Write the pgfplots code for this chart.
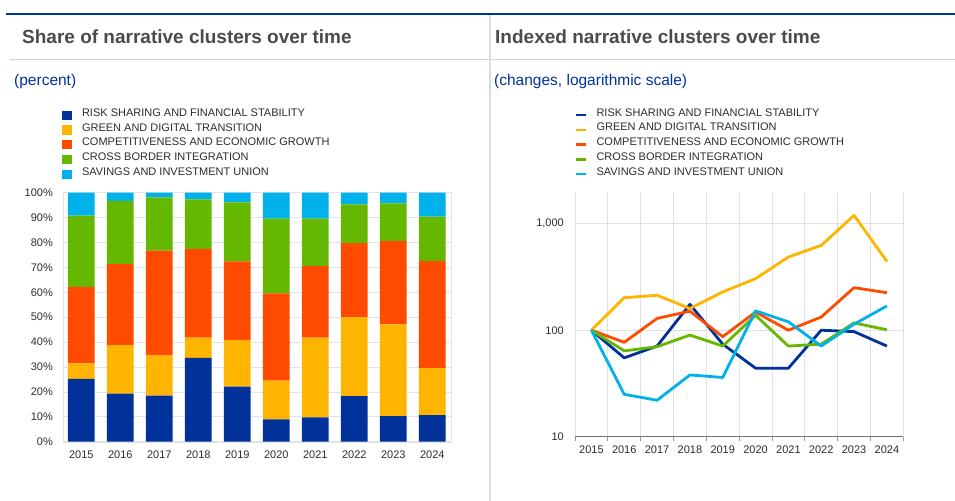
\documentclass[border=0pt]{standalone}
\usepackage{pgfplots}
\pgfplotsset{compat=1.18}
\usepackage{pgfplotstable}
\usepackage{fontspec}
\setmainfont{Liberation Sans}
\definecolor{ecbblue}{RGB}{0,50,153}
\definecolor{ecbyellow}{RGB}{255,180,0}
\definecolor{ecborange}{RGB}{255,75,0}
\definecolor{ecbgreen}{RGB}{101,184,0}
\definecolor{ecbcyan}{RGB}{0,177,234}
\definecolor{titlegrey}{RGB}{75,75,75}
\definecolor{txt}{RGB}{45,45,45}
\definecolor{gridc}{RGB}{222,227,238}
\definecolor{gridr}{RGB}{225,225,225}
\pgfplotsset{
  sqleg/.style={legend image code/.code={\fill[##1] (0bp,-4.6bp) rectangle (9.5bp,4.6bp);}},
  lineleg/.style={legend image code/.code={\draw[##1, line width=2.3bp] (0bp,0bp) -- (10bp,0bp);}},
}
\pgfplotstableread{
x rs gd cg cb si
0 25.2 6.3 30.7 28.6 9.2
1 19.3 19.5 32.6 25.3 3.3
2 18.5 16.3 41.9 21.4 1.9
3 33.7 8.1 35.6 19.9 2.7
4 22.1 18.7 31.6 23.7 3.9
5 9.0 15.5 35.1 30.0 10.4
6 9.8 32.0 28.7 19.1 10.4
7 18.3 31.6 29.8 15.6 4.7
8 10.3 36.8 33.6 15.0 4.3
9 10.7 18.8 43.1 17.8 9.6
}\sharetable
\begin{document}
\begin{tikzpicture}
\path[use as bounding box, fill=white] (0bp,0bp) rectangle (955bp,501bp);
\draw[ecbblue, line width=1.4bp] (6bp,487bp) -- (955bp,487bp);
\draw[black!18, line width=0.9bp] (10bp,441.5bp) -- (955bp,441.5bp);
\draw[black!14, line width=1.2bp] (490bp,486.3bp) -- (490bp,0bp);
\node[anchor=west, inner sep=0pt, text=titlegrey, font=\fontsize{19bp}{22bp}\selectfont\bfseries] at (22bp,464bp) {Share of narrative clusters over time};
\node[anchor=west, inner sep=0pt, text=titlegrey, font=\fontsize{19bp}{22bp}\selectfont\bfseries] at (495bp,464bp) {Indexed narrative clusters over time};
\node[anchor=west, inner sep=0pt, text=ecbblue, font=\fontsize{15.5bp}{18bp}\selectfont] at (14bp,420bp) {(percent)};
\node[anchor=west, inner sep=0pt, text=ecbblue, font=\fontsize{15.5bp}{18bp}\selectfont] at (494bp,420bp) {(changes, logarithmic scale)};

\begin{axis}[
  at={(63bp,59.3bp)}, anchor=south west, scale only axis,
  width=388bp, height=249bp,
  ybar stacked, bar width=26.7bp,
  xmin=-0.47, xmax=9.48, ymin=0, ymax=100,
  xtick={0,...,9}, xticklabels={2015,2016,2017,2018,2019,2020,2021,2022,2023,2024},
  ytick={0,10,...,100}, yticklabel={\pgfmathprintnumber{\tick}\%},
  /pgf/number format/assume math mode=true,
  tick label style={font=\fontsize{11bp}{13bp}\selectfont, text=txt},
  yticklabel style={anchor=east, inner sep=0pt, xshift=-10bp},
  xticklabel style={anchor=north, inner sep=0pt, yshift=-9bp},
  major tick length=0pt,
  axis line style={draw=gridc},
  ymajorgrids, grid style={draw=gridc, line width=0.6bp},
  legend style={at={(axis description cs:-0.003,1.342)}, anchor=north west,
    draw=none, fill=none, font=\fontsize{11bp}{13bp}\selectfont, text=txt,
    row sep=0bp, inner sep=0pt,
    nodes={inner xsep=0bp, inner ysep=0bp, text height=8.5bp, text depth=6.3bp},
    /tikz/every odd column/.style={column sep=10.5bp}},
  legend cell align=left,
]
\addplot[fill=ecbblue, draw=none, sqleg] table[x=x,y=rs]{\sharetable};
\addlegendentry{RISK SHARING AND FINANCIAL STABILITY}
\addplot[fill=ecbyellow, draw=none, sqleg] table[x=x,y=gd]{\sharetable};
\addlegendentry{GREEN AND DIGITAL TRANSITION}
\addplot[fill=ecborange, draw=none, sqleg] table[x=x,y=cg]{\sharetable};
\addlegendentry{COMPETITIVENESS AND ECONOMIC GROWTH}
\addplot[fill=ecbgreen, draw=none, sqleg] table[x=x,y=cb]{\sharetable};
\addlegendentry{CROSS BORDER INTEGRATION}
\addplot[fill=ecbcyan, draw=none, sqleg] table[x=x,y=si]{\sharetable};
\addlegendentry{SAVINGS AND INVESTMENT UNION}
\end{axis}

\begin{axis}[
  at={(575bp,64.3bp)}, anchor=south west, scale only axis,
  width=328.3bp, height=245bp,
  ymode=log, ymin=10, ymax=2000, xmin=-0.5, xmax=9.5,
  ytick={10,100,1000}, yticklabels={10,100,{1,000}}, yminorticks=false,
  xtick={0,...,9}, xticklabels={2015,2016,2017,2018,2019,2020,2021,2022,2023,2024},
  minor xtick={-0.5,0.5,...,9.5}, xminorgrids, ymajorgrids,
  grid style={draw=gridr, line width=0.8bp},
  minor grid style={draw=gridr, line width=0.8bp},
  axis x line*=bottom, axis y line*=left,
  y axis line style={draw=none},
  x axis line style={-, draw=black!55, line width=1.3bp},
  major tick length=0pt, minor tick length=4bp, tick align=outside,
  minor tick style={draw=black!40, line width=0.8bp},
  /pgf/number format/assume math mode=true,
  tick label style={font=\fontsize{11bp}{13bp}\selectfont, text=txt},
  yticklabel style={anchor=east, inner sep=0pt, xshift=-11bp},
  xticklabel style={anchor=north, inner sep=0pt, yshift=-9bp},
  legend style={at={(axis description cs:0,1.344)}, anchor=north west,
    draw=none, fill=none, font=\fontsize{11bp}{13bp}\selectfont, text=txt,
    row sep=0bp, inner sep=0pt,
    nodes={inner xsep=0bp, inner ysep=0bp, text height=8.5bp, text depth=6.3bp},
    /tikz/every odd column/.style={column sep=9bp}},
  legend cell align=left,
  every axis plot/.append style={line width=2.8bp, line join=round, mark=none},
]
\addplot[ecbblue, lineleg] coordinates {(0,100) (1,55) (2,71) (3,175) (4,74) (5,44) (6,44) (7,100) (8,97) (9,71)};
\addlegendentry{RISK SHARING AND FINANCIAL STABILITY}
\addplot[ecbyellow, lineleg] coordinates {(0,100) (1,202) (2,213) (3,160) (4,229) (5,305) (6,487) (7,626) (8,1197) (9,443)};
\addlegendentry{GREEN AND DIGITAL TRANSITION}
\addplot[ecborange, lineleg] coordinates {(0,100) (1,77) (2,129) (3,151) (4,87) (5,148) (6,100) (7,133) (8,251) (9,225)};
\addlegendentry{COMPETITIVENESS AND ECONOMIC GROWTH}
\addplot[ecbgreen, lineleg] coordinates {(0,100) (1,64) (2,70) (3,90) (4,71) (5,138) (6,71) (7,74) (8,117) (9,101)};
\addlegendentry{CROSS BORDER INTEGRATION}
\addplot[ecbcyan, lineleg] coordinates {(0,100) (1,25) (2,22) (3,38) (4,36) (5,152) (6,120) (7,71) (8,114) (9,169)};
\addlegendentry{SAVINGS AND INVESTMENT UNION}
\end{axis}
\end{tikzpicture}
\end{document}
